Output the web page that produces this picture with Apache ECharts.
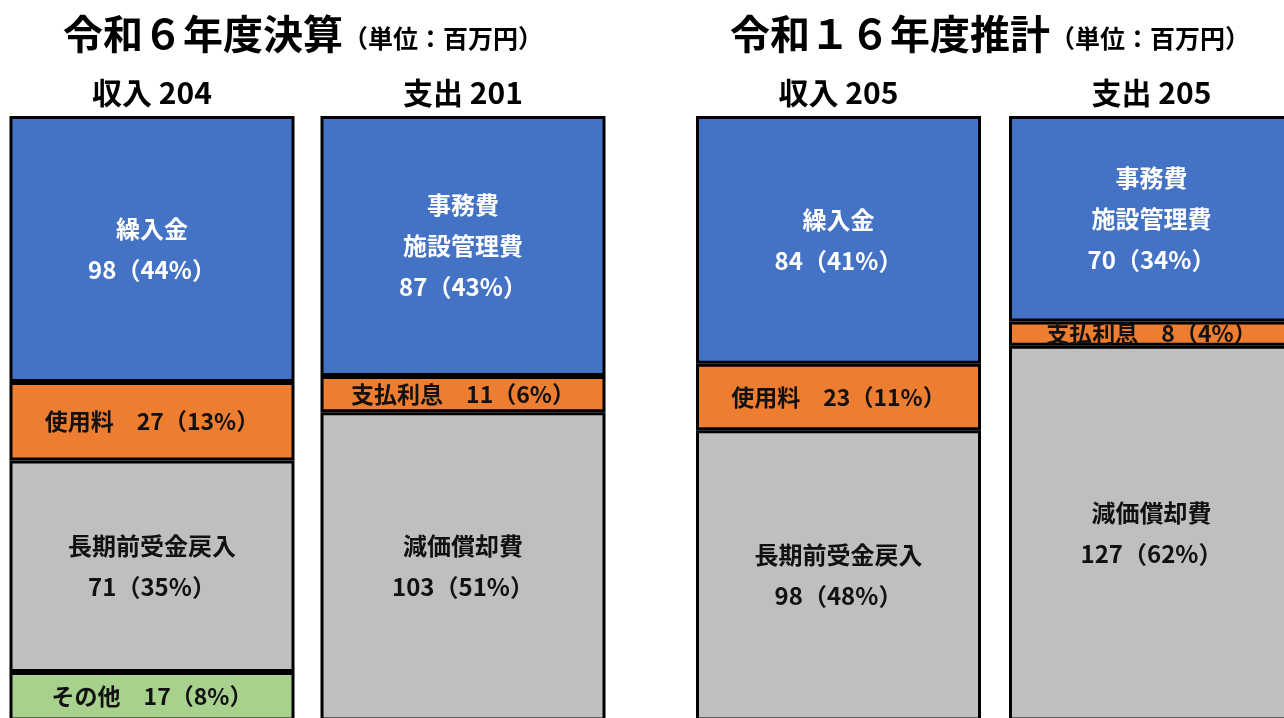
<!DOCTYPE html>
<html>
<head>
<meta charset="utf-8">
<script src="https://cdn.jsdelivr.net/npm/echarts@6/dist/echarts.min.js"></script>
<style>
html,body{margin:0;padding:0;background:#fff;}
#chart{width:1284px;height:718px;}
</style>
</head>
<body>
<div id="chart"></div>
<script>
// ---- data ----
const panelTitles = ['令和６年度決算', '令和１６年度推計'];
const unitLabel = '（単位：百万円）';

const barTitlesR6 = ['収入 204', '支出 201'];
const barTitlesR16 = ['収入 205', '支出 205'];

const itemsR6Income = ['繰入金', '使用料', '長期前受金戻入', 'その他'];
const amountsR6Income = [98, 27, 71, 17];
const pctR6Income = [44, 13, 35, 8];

const itemsR6Expense = ['事務費\n施設管理費', '支払利息', '減価償却費'];
const amountsR6Expense = [87, 11, 103];
const pctR6Expense = [43, 6, 51];

const itemsR16Income = ['繰入金', '使用料', '長期前受金戻入'];
const amountsR16Income = [84, 23, 98];
const pctR16Income = [41, 11, 48];

const itemsR16Expense = ['事務費\n施設管理費', '支払利息', '減価償却費'];
const amountsR16Expense = [70, 8, 127];
const pctR16Expense = [34, 4, 62];

// ---- styles ----
const FONT = "'Noto Sans CJK JP', 'Noto Sans', sans-serif";
const segColors = ['#4472C4', '#ED7D31', '#BFBFBF', '#A9D18E'];
const multiLine = [true, false, true, false];
const labelColors = ['#ffffff', '#111111', '#111111', '#111111'];

function makeSeries(gridIndex, bars) {
  const n = Math.max.apply(null, bars.map(b => b.items.length));
  const out = [];
  for (let k = 0; k < n; k++) {
    out.push({
      type: 'bar',
      xAxisIndex: gridIndex,
      yAxisIndex: gridIndex,
      stack: 'g' + gridIndex,
      barWidth: 285,
      clip: false,
      data: bars.map(b => (k < b.pct.length ? b.pct[k] : '-')),
      itemStyle: { color: segColors[k], borderColor: '#000', borderWidth: 3 },
      emphasis: { disabled: true },
      label: {
        show: true,
        position: 'inside',
        color: labelColors[k],
        fontFamily: FONT,
        fontWeight: 'bold',
        fontSize: multiLine[k] ? 24 : 23,
        lineHeight: 41,
        formatter: function (p) {
          const b = bars[p.dataIndex];
          const name = b.items[k];
          const num = b.amounts[k] + '（' + b.pct[k] + '%）';
          return multiLine[k] ? name + '\n' + num : name + '　' + num;
        }
      }
    });
  }
  return out;
}

const barsR6 = [
  { items: itemsR6Income, amounts: amountsR6Income, pct: pctR6Income },
  { items: itemsR6Expense, amounts: amountsR6Expense, pct: pctR6Expense }
];
const barsR16 = [
  { items: itemsR16Income, amounts: amountsR16Income, pct: pctR16Income },
  { items: itemsR16Expense, amounts: amountsR16Expense, pct: pctR16Expense }
];

function makeTitle(text, cx) {
  return {
    text: '{m|' + text + '}{u|' + unitLabel + '}',
    left: cx,
    textAlign: 'center',
    top: 12,
    padding: 0,
    textStyle: {
      rich: {
        m: { fontFamily: FONT, fontWeight: 'bold', fontSize: 40, color: '#000', lineHeight: 44 },
        u: { fontFamily: FONT, fontWeight: 'bold', fontSize: 25, color: '#000', lineHeight: 44, padding: [8, 0, 0, 0] }
      }
    }
  };
}

const xAxisCommon = {
  type: 'category',
  position: 'top',
  boundaryGap: false,
  axisLine: { show: false },
  axisTick: { show: false },
  splitLine: { show: false },
  axisLabel: { fontFamily: FONT, fontWeight: 'bold', fontSize: 30, color: '#000', margin: 8, interval: 0 }
};
const yAxisCommon = { type: 'value', inverse: true, min: 0, max: 99.6, show: false };

const option = {
  animation: false,
  backgroundColor: '#ffffff',
  title: [makeTitle(panelTitles[0], 303), makeTitle(panelTitles[1], 990)],
  grid: [
    { left: 152, top: 116, width: 311, height: 602 },
    { left: 838.5, top: 116, width: 313, height: 602 }
  ],
  xAxis: [
    Object.assign({}, xAxisCommon, { gridIndex: 0, data: barTitlesR6 }),
    Object.assign({}, xAxisCommon, { gridIndex: 1, data: barTitlesR16 })
  ],
  yAxis: [
    Object.assign({}, yAxisCommon, { gridIndex: 0 }),
    Object.assign({}, yAxisCommon, { gridIndex: 1 })
  ],
  series: makeSeries(0, barsR6).concat(makeSeries(1, barsR16))
};

const chart = echarts.init(document.getElementById('chart'), null, { renderer: 'canvas' });
chart.setOption(option);
</script>
</body>
</html>
